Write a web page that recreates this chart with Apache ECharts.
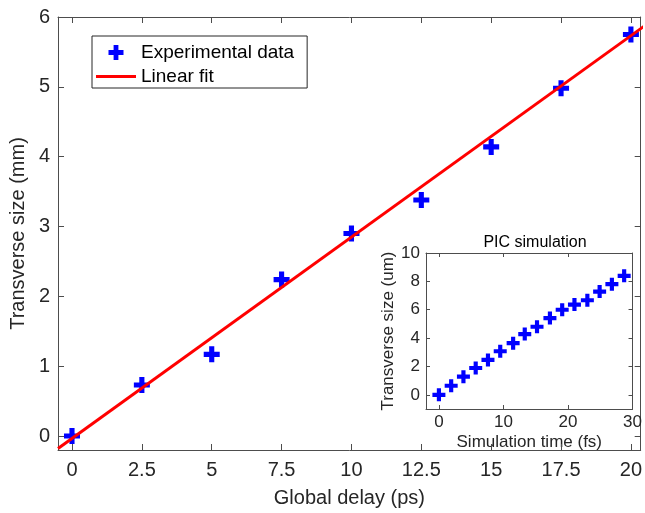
<!DOCTYPE html>
<html>
<head>
<meta charset="utf-8">
<script src="https://cdn.jsdelivr.net/npm/echarts@6/dist/echarts.min.js"></script>
<style>
html,body{margin:0;padding:0;background:#fff;}
#c{width:645px;height:513px;}
</style>
</head>
<body>
<div id="c"></div>
<script>
// Main plot: experimental data
var expX = [0, 2.5, 5, 7.5, 10, 12.5, 15, 17.5, 20];
var expY = [0.0, 0.73, 1.17, 2.24, 2.90, 3.38, 4.14, 4.98, 5.75];
// Linear fit end points
var fitX = [-0.5, 20.5];
var fitY = [-0.178, 5.876];
// Inset: PIC simulation
var simT = [0, 1.9, 3.8, 5.7, 7.6, 9.5, 11.5, 13.3, 15.2, 17.2, 19.1, 21.0, 23.0, 24.9, 26.8, 28.7];
var simY = [0, 0.64, 1.28, 1.89, 2.46, 3.07, 3.64, 4.28, 4.80, 5.41, 6.0, 6.36, 6.67, 7.28, 7.80, 8.39];
// Tick values
var mainXTicks = [0, 2.5, 5, 7.5, 10, 12.5, 15, 17.5, 20];
var mainYTicks = [0, 1, 2, 3, 4, 5, 6];
var insetXTicks = [0, 10, 20, 30];
var insetYTicks = [0, 2, 4, 6, 8, 10];

var FONT = "'Liberation Sans', Arial, sans-serif";
var AX = '#4d4d4d';
var TXT = '#262626';
var PLUS = 'path://M-1.6,-5H1.6V-1.6H5V1.6H1.6V5H-1.6V1.6H-5V-1.6H-1.6Z';
var LINEICON = 'path://M0,0H40V3H0Z';

function pairs(a, b) { return a.map(function (v, i) { return [v, b[i]]; }); }

function mkAxis(o) {
  var ax = {
    type: 'value',
    gridIndex: o.grid,
    position: o.pos,
    min: o.min, max: o.max,
    splitLine: { show: false },
    axisLine: { show: true, onZero: false, lineStyle: { color: AX, width: 1 } },
    axisTick: { show: true, inside: true, length: o.tl, customValues: o.ticks, lineStyle: { color: AX } },
    axisLabel: { show: !!o.labels, customValues: o.ticks, fontFamily: FONT, fontSize: o.fs, color: TXT, margin: o.margin,
      formatter: function (v) { return String(v); } }
  };
  if (o.name) {
    ax.name = o.name;
    ax.nameLocation = 'middle';
    ax.nameGap = o.nameGap;
    ax.nameTextStyle = { fontFamily: FONT, fontSize: o.nfs, color: TXT };
  }
  return ax;
}

var chart = echarts.init(document.getElementById('c'), null, { renderer: 'canvas' });
chart.setOption({
  backgroundColor: '#fff',
  animation: false,
  title: {
    text: 'PIC simulation', left: 530, top: 230, textAlign: 'center',
    textStyle: { fontFamily: FONT, fontSize: 16, fontWeight: 'normal', color: '#000' }
  },
  legend: {
    orient: 'vertical', left: 92, top: 36,
    padding: [7, 13, 2, 4], itemGap: 5, itemWidth: 40, itemHeight: 15,
    borderColor: '#262626', borderWidth: 1, backgroundColor: '#fff',
    textStyle: { fontFamily: FONT, fontSize: 19, color: '#000' },
    data: [
      { name: 'Experimental data', icon: PLUS },
      { name: 'Linear fit', icon: LINEICON }
    ]
  },
  grid: [
    { left: 56, top: 17, width: 589, height: 439, containLabel: false },
    { left: 426, top: 253, width: 209, height: 156, show: true, backgroundColor: '#fff', borderWidth: 0, containLabel: false }
  ],
  xAxis: [
    mkAxis({ grid: 0, pos: 'bottom', min: -0.5, max: 20.35, ticks: mainXTicks, tl: 6, labels: true, fs: 20, margin: 10,
      name: 'Global delay (ps)', nameGap: 38, nfs: 20 }),
    mkAxis({ grid: 0, pos: 'top', min: -0.5, max: 20.35, ticks: mainXTicks, tl: 6 }),
    mkAxis({ grid: 1, pos: 'bottom', min: -2, max: 30, ticks: insetXTicks, tl: 4, labels: true, fs: 17, margin: 5,
      name: 'Simulation time (fs)', nameGap: 25, nfs: 17 }),
    mkAxis({ grid: 1, pos: 'top', min: -2, max: 30, ticks: insetXTicks, tl: 4 })
  ],
  yAxis: [
    mkAxis({ grid: 0, pos: 'left', min: -0.2, max: 6, ticks: mainYTicks, tl: 6, labels: true, fs: 20, margin: 8,
      name: 'Transverse size (mm)', nameGap: 23, nfs: 20 }),
    mkAxis({ grid: 0, pos: 'right', min: -0.2, max: 6, ticks: mainYTicks, tl: 6 }),
    mkAxis({ grid: 1, pos: 'left', min: -1, max: 10, ticks: insetYTicks, tl: 4, labels: true, fs: 17, margin: 6,
      name: 'Transverse size (um)', nameGap: 29, nfs: 17 }),
    mkAxis({ grid: 1, pos: 'right', min: -1, max: 10, ticks: insetYTicks, tl: 4 })
  ],
  series: [
    { name: 'Experimental data', type: 'scatter', xAxisIndex: 0, yAxisIndex: 0, data: pairs(expX, expY),
      symbol: PLUS, symbolSize: 16, itemStyle: { color: '#0000ff', opacity: 1 }, z: 2 },
    { name: 'Linear fit', type: 'line', xAxisIndex: 0, yAxisIndex: 0, data: pairs(fitX, fitY),
      symbol: 'none', showSymbol: false, clip: true, lineStyle: { color: '#ff0000', width: 3 }, itemStyle: { color: '#ff0000' }, z: 3 },
    { name: 'PIC', type: 'scatter', xAxisIndex: 2, yAxisIndex: 2, data: pairs(simT, simY),
      symbol: PLUS, symbolSize: 13, itemStyle: { color: '#0000ff', opacity: 1 }, z: 5 }
  ]
});
</script>
</body>
</html>
